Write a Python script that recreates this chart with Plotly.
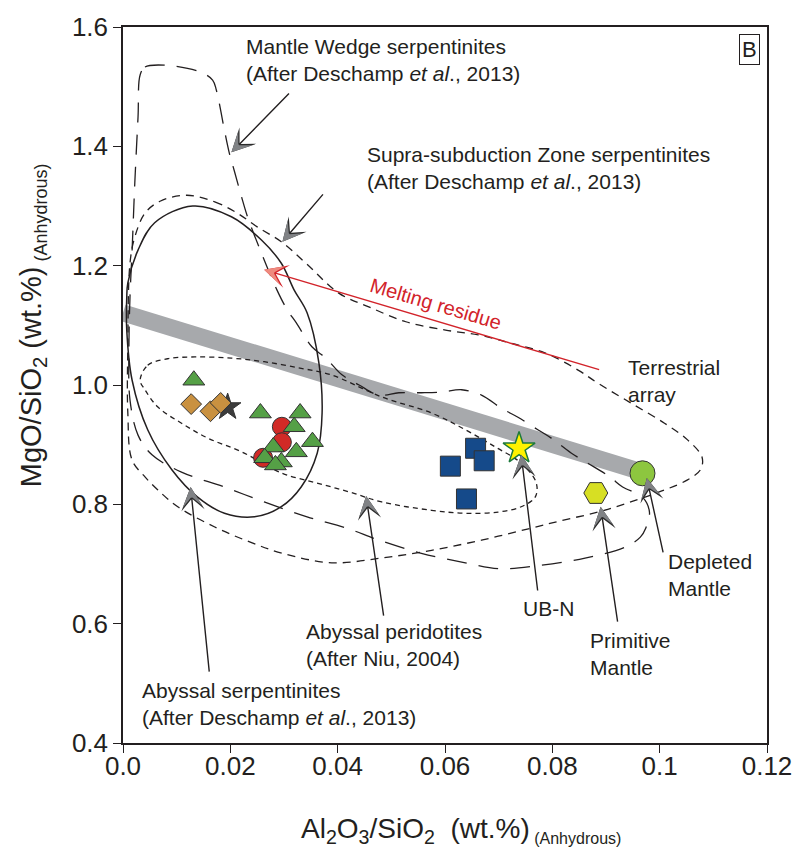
import plotly.graph_objects as go

# ---------------- data ----------------
# sample groups (Al2O3/SiO2, MgO/SiO2)
circ_x = [0.0296, 0.0296, 0.0261]
circ_y = [0.930, 0.904, 0.878]

tri_x = [0.0132, 0.0256, 0.0330, 0.0319, 0.0353, 0.0323, 0.0280, 0.0264, 0.0295, 0.0284]
tri_y = [1.008, 0.953, 0.953, 0.930, 0.905, 0.888, 0.896, 0.878, 0.871, 0.866]

dstar_x = [0.0195]
dstar_y = [0.963]

dia_x = [0.0127, 0.0163, 0.0182]
dia_y = [0.968, 0.956, 0.970]

sq_x = [0.0657, 0.0673, 0.0610, 0.0640]
sq_y = [0.894, 0.873, 0.864, 0.809]

ubn_x = [0.0738]
ubn_y = [0.894]

pm_x = [0.0881]
pm_y = [0.819]

dm_x = [0.0968]
dm_y = [0.852]

# terrestrial array
ta_x = [0.0, 0.0968]
ta_y = [1.121, 0.854]

# Mantle wedge serpentinites field
mw_x = [0.0032, 0.0041, 0.0078, 0.0143, 0.0167, 0.0174, 0.0189, 0.0198, 0.0208, 0.0221,
        0.0232, 0.0258, 0.0287, 0.0306, 0.0323, 0.0352, 0.0378, 0.0408, 0.0440, 0.0477,
        0.0514, 0.0556, 0.0594, 0.0631, 0.0668, 0.0705, 0.0736, 0.0773, 0.0798, 0.0835,
        0.0866, 0.0907, 0.0931, 0.0968, 0.0981, 0.0974, 0.0964, 0.0935, 0.0861, 0.0779,
        0.0705, 0.0638, 0.0556, 0.0477, 0.0417, 0.0343, 0.0263, 0.0189, 0.0109, 0.0054,
        0.0028, 0.0013, 0.0011, 0.0013, 0.0017, 0.0022, 0.0028, 0.0032]
mw_y = [1.520, 1.533, 1.536, 1.525, 1.511, 1.494, 1.427, 1.389, 1.357, 1.315,
        1.282, 1.221, 1.159, 1.126, 1.104, 1.064, 1.045, 1.017, 1.000, 0.983,
        0.987, 0.987, 0.988, 0.992, 0.983, 0.961, 0.946, 0.925, 0.911, 0.886,
        0.869, 0.846, 0.829, 0.812, 0.787, 0.760, 0.745, 0.728, 0.710, 0.698,
        0.692, 0.702, 0.718, 0.740, 0.760, 0.779, 0.804, 0.829, 0.854, 0.883,
        0.916, 0.975, 1.059, 1.147, 1.226, 1.339, 1.449, 1.520]

# Supra-subduction zone serpentinites field
ssz_x = [0.0119, 0.0171, 0.0213, 0.0250, 0.0295, 0.0341, 0.0402, 0.0458, 0.0527, 0.0601,
         0.0662, 0.0723, 0.0786, 0.0848, 0.0885, 0.0946, 0.1009, 0.1052, 0.1079, 0.1076,
         0.1052, 0.1009, 0.0946, 0.0885, 0.0823, 0.0760, 0.0668, 0.0575, 0.0482, 0.0389,
         0.0297, 0.0236, 0.0171, 0.0102, 0.0065, 0.0041, 0.0017, 0.0009, 0.0009, 0.0013,
         0.0022, 0.0041, 0.0069, 0.0119]
ssz_y = [1.318, 1.307, 1.288, 1.265, 1.240, 1.204, 1.154, 1.131, 1.106, 1.092,
         1.084, 1.070, 1.054, 1.025, 1.003, 0.970, 0.936, 0.908, 0.879, 0.858,
         0.841, 0.824, 0.804, 0.787, 0.774, 0.760, 0.740, 0.723, 0.710, 0.702,
         0.718, 0.737, 0.762, 0.796, 0.824, 0.846, 0.874, 0.953, 1.064, 1.204,
         1.248, 1.288, 1.308, 1.318]

# Abyssal peridotites field
ap_x = [0.0032, 0.0046, 0.0083, 0.0134, 0.0202, 0.0263, 0.0332, 0.0388, 0.0482, 0.0575,
        0.0638, 0.0694, 0.0742, 0.0770, 0.0768, 0.0742, 0.0699, 0.0638, 0.0575, 0.0482,
        0.0421, 0.0360, 0.0297, 0.0221, 0.0158, 0.0109, 0.0065, 0.0041, 0.0032]
ap_y = [1.008, 1.033, 1.044, 1.047, 1.045, 1.039, 1.028, 1.017, 0.980, 0.953,
        0.925, 0.896, 0.869, 0.836, 0.812, 0.796, 0.787, 0.785, 0.790, 0.804,
        0.821, 0.836, 0.852, 0.888, 0.911, 0.936, 0.963, 0.992, 1.008]

# Abyssal serpentinites field (solid outline)
as_x = [0.0130, 0.0202, 0.0258, 0.0295, 0.0319, 0.0343, 0.0365, 0.0371, 0.0362, 0.0332,
        0.0295, 0.0245, 0.0189, 0.0139, 0.0091, 0.0046, 0.0017, 0.0007, 0.0007, 0.0009,
        0.0028, 0.0059, 0.0130]
as_y = [1.300, 1.282, 1.243, 1.204, 1.159, 1.121, 1.037, 0.953, 0.886, 0.829,
        0.796, 0.779, 0.785, 0.812, 0.858, 0.925, 1.008, 1.092, 1.147, 1.171,
        1.226, 1.272, 1.300]

# pointer arrows: (tail x, tail y, head x, head y)
pointers = [
    (0.0312, 1.491, 0.0202, 1.390),   # mantle wedge
    (0.0375, 1.322, 0.0297, 1.240),   # supra-subduction
    (0.0161, 0.517, 0.0126, 0.829),   # abyssal serpentinites
    (0.0486, 0.611, 0.0453, 0.814),   # abyssal peridotites
    (0.0773, 0.653, 0.0742, 0.883),   # UB-N
    (0.0922, 0.601, 0.0890, 0.796),   # primitive mantle
    (0.1007, 0.717, 0.0976, 0.844),   # depleted mantle
]
melt_arrow = (0.0890, 1.025, 0.0263, 1.193)

# text labels: (x, y, text)
labels = [
    (0.0226, 1.544, "Mantle Wedge serpentinites<br>(After Deschamp <i>et al</i>., 2013)"),
    (0.0451, 1.364, "Supra-subduction Zone serpentinites<br>(After Deschamp <i>et al</i>., 2013)"),
    (0.0937, 1.0075, "Terrestrial<br>array"),
    (0.1011, 0.681, "Depleted<br>Mantle"),
    (0.0742, 0.625, "UB-N"),
    (0.0866, 0.549, "Primitive<br>Mantle"),
    (0.0338, 0.564, "Abyssal peridotites<br>(After Niu, 2004)"),
    (0.0032, 0.466, "Abyssal serpentinites<br>(After Deschamp <i>et al</i>., 2013)"),
]

x_ticks = [0.0, 0.02, 0.04, 0.06, 0.08, 0.1, 0.12]
x_ticktext = ["0.0", "0.02", "0.04", "0.06", "0.08", "0.1", "0.12"]
y_ticks = [0.4, 0.6, 0.8, 1.0, 1.2, 1.4, 1.6]
y_ticktext = ["0.4", "0.6", "0.8", "1.0", "1.2", "1.4", "1.6"]

# ---------------- figure ----------------
W, H = 804, 855
ML, MR, MT, MB = 123, 34, 27, 112
XR = [0.0, 0.12]
YR = [0.4, 1.6]
FONT = "Liberation Sans, Arial, sans-serif"
INK = "#231f20"

fig = go.Figure()

fig.add_trace(go.Scatter(x=ta_x, y=ta_y, mode="lines",
                         line=dict(color="#a7a9ac", width=17), hoverinfo="skip"))

fig.add_trace(go.Scatter(x=mw_x, y=mw_y, mode="lines", line_shape="spline",
                         line=dict(color=INK, width=1.3, dash="20px,12px"), hoverinfo="skip"))
fig.add_trace(go.Scatter(x=ssz_x, y=ssz_y, mode="lines", line_shape="spline",
                         line=dict(color=INK, width=1.3, dash="8px,6px"), hoverinfo="skip"))
fig.add_trace(go.Scatter(x=ap_x, y=ap_y, mode="lines", line_shape="spline",
                         line=dict(color=INK, width=1.3, dash="5px,4px"), hoverinfo="skip"))
fig.add_trace(go.Scatter(x=as_x, y=as_y, mode="lines", line_shape="spline",
                         line=dict(color=INK, width=1.5), hoverinfo="skip"))

edge = dict(color="#333333", width=1)
fig.add_trace(go.Scatter(x=circ_x, y=circ_y, mode="markers",
                         marker=dict(symbol="circle", size=19, color="#d12a26", line=edge)))
fig.add_trace(go.Scatter(x=tri_x, y=tri_y, mode="markers",
                         marker=dict(symbol="triangle-up", size=19, color="#55a046", line=edge)))
fig.add_trace(go.Scatter(x=dstar_x, y=dstar_y, mode="markers",
                         marker=dict(symbol="star", size=20, color="#3c3c3c", line=edge)))
fig.add_trace(go.Scatter(x=dia_x, y=dia_y, mode="markers",
                         marker=dict(symbol="diamond", size=16, color="#c99140", line=edge)))
fig.add_trace(go.Scatter(x=sq_x, y=sq_y, mode="markers",
                         marker=dict(symbol="square", size=20, color="#154a8a", line=edge)))
fig.add_trace(go.Scatter(x=ubn_x, y=ubn_y, mode="markers",
                         marker=dict(symbol="star", size=24, color="#fff200",
                                     line=dict(color="#1e7a3c", width=1.5))))
fig.add_trace(go.Scatter(x=pm_x, y=pm_y, mode="markers",
                         marker=dict(symbol="hexagon2", size=24, color="#d7df23", line=edge)))
fig.add_trace(go.Scatter(x=dm_x, y=dm_y, mode="markers",
                         marker=dict(symbol="circle", size=25, color="#8dc63f", line=edge)))

# ---------------- arrows ----------------
pw = W - ML - MR
ph = H - MT - MB
sx = pw / (XR[1] - XR[0])
sy = ph / (YR[1] - YR[0])


def add_arrow(tail_x, tail_y, head_x, head_y, line_col, head_col, head_edge):
    # shaft
    fig.add_annotation(x=head_x, y=head_y, ax=tail_x, ay=tail_y, xref="x", yref="y",
                       axref="x", ayref="y", text="", showarrow=True, arrowhead=0,
                       arrowwidth=1.4, arrowcolor=line_col, standoff=10)
    # head: short pixel shaft pointing along the arrow direction
    dxp = (tail_x - head_x) * sx
    dyp = -(tail_y - head_y) * sy
    L = (dxp ** 2 + dyp ** 2) ** 0.5
    ux, uy = dxp / L, dyp / L
    for col, size in ((head_edge, 3.9), (head_col, 3.3)):
        fig.add_annotation(x=head_x, y=head_y, ax=ux * 12, ay=uy * 12, xref="x", yref="y",
                           axref="pixel", ayref="pixel", text="", showarrow=True,
                           arrowhead=3, arrowsize=size, arrowwidth=1, arrowcolor=col)


for tx, ty, hx, hy in pointers:
    add_arrow(tx, ty, hx, hy, INK, "#808285", "#2b2b2b")

add_arrow(*melt_arrow, "#d2232a", "#ee8a7e", "#d2232a")

fig.add_annotation(x=0.0584, y=1.136, xref="x", yref="y", text="Melting residue",
                   showarrow=False, textangle=16.5,
                   font=dict(family=FONT, size=20, color="#d2232a"))

for lx, ly, txt in labels:
    fig.add_annotation(x=lx, y=ly, xref="x", yref="y", text=txt, showarrow=False,
                       xanchor="left", yanchor="middle", align="left",
                       font=dict(family=FONT, size=21, color=INK))

fig.add_annotation(x=(752 - ML) / pw, y=(H - MB - 49) / ph, xref="paper", yref="paper",
                   xanchor="center", yanchor="middle",
                   text="B", showarrow=False, bordercolor=INK, borderwidth=1, borderpad=2,
                   font=dict(family=FONT, size=22, color=INK))

# axis titles
fig.add_annotation(x=0.5255, y=-0.1216, xref="paper", yref="paper", showarrow=False,
                   xanchor="center", yanchor="middle",
                   text="Al<sub>2</sub>O<sub>3</sub>/SiO<sub>2</sub>  (wt.%)"
                        "<sub><span style='font-size:16px'> (Anhydrous)</span></sub>",
                   font=dict(family=FONT, size=28, color=INK))
fig.add_annotation(x=-0.1407, y=0.584, xref="paper", yref="paper", showarrow=False,
                   xanchor="center", yanchor="middle", textangle=-90,
                   text="MgO/SiO<sub>2</sub> (wt.%)"
                        "<sub><span style='font-size:18px'> (Anhydrous)</span></sub>",
                   font=dict(family=FONT, size=29, color=INK))

axis_common = dict(showgrid=False, zeroline=False, showline=True, linecolor=INK,
                   linewidth=1.5, mirror=True, ticks="outside", ticklen=8, tickwidth=1.2,
                   tickcolor=INK, tickfont=dict(family=FONT, size=26, color=INK))
fig.update_xaxes(range=XR, tickvals=x_ticks, ticktext=x_ticktext, ticklabelstandoff=-9,
                 **axis_common)
fig.update_yaxes(range=YR, tickvals=y_ticks, ticktext=y_ticktext, **axis_common)

fig.update_layout(width=W, height=H, margin=dict(l=ML, r=MR, t=MT, b=MB),
                  plot_bgcolor="white", paper_bgcolor="white", showlegend=False,
                  font=dict(family=FONT, color=INK))

fig.write_html("out.html")
